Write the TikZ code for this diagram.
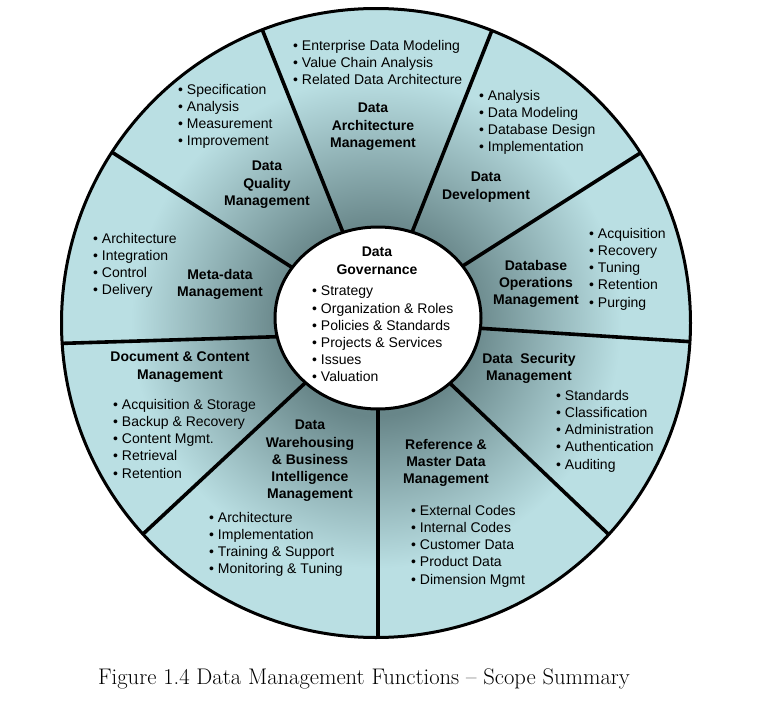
\documentclass[tikz,border=0pt]{standalone}
\usepackage{fontspec}
\newfontfamily\arialf{Liberation Sans}
\definecolor{wdark}{RGB}{104,134,137}
\definecolor{wlight}{RGB}{186,223,227}
\pgfdeclareradialshading{wheelshade}{\pgfpoint{0bp}{0bp}}{color(0bp)=(wdark); color(7.4bp)=(wdark); color(19.5bp)=(wlight); color(50bp)=(wlight)}
\begin{document}
\begin{tikzpicture}[x=1pt,y=-1pt,
  items/.style={anchor=north west, align=left, inner sep=0pt, font=\arialf\fontsize{14}{17.2}\selectfont},
  ftitle/.style={anchor=north, align=center, inner sep=0pt, font=\arialf\bfseries\fontsize{14}{17.2}\selectfont},
  divider/.style={line width=3.6pt, black},
  rim/.style={line width=3pt, black}]
\useasboundingbox (0,0) rectangle (772,704);
\coordinate (c) at (376,323);
\shade[shading=wheelshade] (c) circle [radius=314.5pt];
\begin{scope}
  \clip (c) circle [radius=314.5pt];
  \draw[divider] (254,9) -- (350,250);
  \draw[divider] (500,10) -- (405,250);
  \draw[divider] (656,143) -- (447,276);
  \draw[divider] (711,343) -- (460,327);
  \draw[divider] (624,549) -- (436,370);
  \draw[divider] (378,650) -- (378,380);
  \draw[divider] (127,549) -- (318,371);
  \draw[divider] (42,344) -- (300,336);
  \draw[divider] (96,142) -- (307,277);
\end{scope}
\draw[rim] (c) circle [radius=314.5pt];
\draw[rim, fill=white] (378,318) ellipse [x radius=103pt, y radius=91pt];

% centre
\node[ftitle] (gt) at (377,247) {Data\\Governance};
\node[items] (gi) at (312,286) {• Strategy\\• Organization \& Roles\\• Policies \& Standards\\• Projects \& Services\\• Issues\\• Valuation};

% Data Architecture
\node[items] (ai) at (293,40) {• Enterprise Data Modeling\\• Value Chain Analysis\\• Related Data Architecture};
\node[ftitle] (at) at (373,103) {Data\\Architecture\\Management};

% Data Development
\node[items] (di) at (479,90) {• Analysis\\• Data Modeling\\• Database Design\\• Implementation};
\node[ftitle] (dt) at (486,172) {Data\\Development};

% Database Operations
\node[ftitle] (ot) at (536,260) {Database\\Operations\\Management};
\node[items] (oi) at (589,228) {• Acquisition\\• Recovery\\• Tuning\\• Retention\\• Purging};

% Data Security
\node[ftitle] (st) at (529,353) {Data\ \ Security\\Management};
\node[items] (si) at (556,390) {• Standards\\• Classification\\• Administration\\• Authentication\\• Auditing};

% Reference & Master Data
\node[ftitle] (rt) at (446,439) {Reference \&\\Master Data\\Management};
\node[items] (ri) at (411,505) {• External Codes\\• Internal Codes\\• Customer Data\\• Product Data\\• Dimension Mgmt};

% Data Warehousing
\node[ftitle] (wt) at (310,420) {Data\\Warehousing\\\& Business\\Intelligence\\Management};
\node[items] (wi) at (209,512) {• Architecture\\• Implementation\\• Training \& Support\\• Monitoring \& Tuning};

% Document & Content
\node[ftitle] (ct) at (180,352) {Document \& Content\\Management};
\node[items] (ci) at (113,399) {• Acquisition \& Storage\\• Backup \& Recovery\\• Content Mgmt.\\• Retrieval\\• Retention};

% Meta-data
\node[items] (mi) at (93,233) {• Architecture\\• Integration\\• Control\\• Delivery};
\node[ftitle] (mt) at (220,269) {Meta-data\\Management};

% Data Quality
\node[items] (qi) at (178,84) {• Specification\\• Analysis\\• Measurement\\• Improvement};
\node[ftitle] (qt) at (267,161) {Data\\Quality\\Management};

% caption
\node[inner sep=0pt, font=\fontsize{22.6}{26}\selectfont] (cap) at (364,679) {Figure 1.4 Data Management Functions -- Scope Summary};
\end{tikzpicture}
\end{document}
